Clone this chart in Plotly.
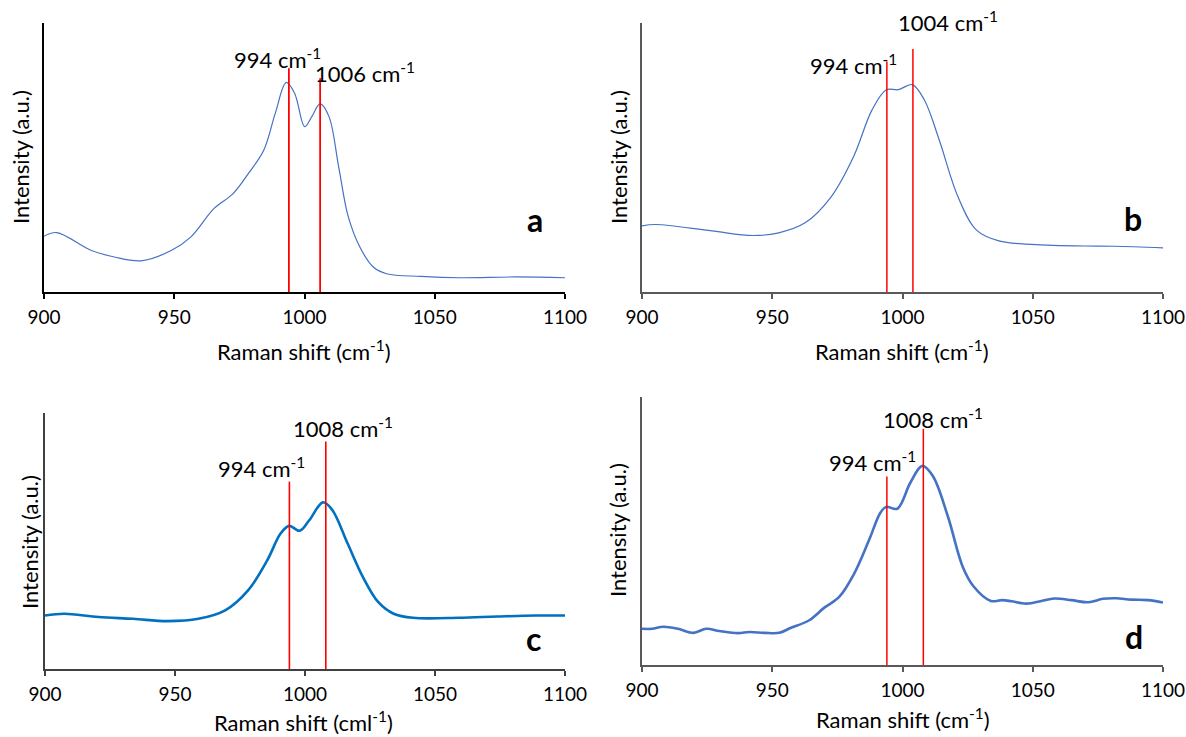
import plotly.graph_objects as go

W, H = 1186, 737

# ---------------- data ----------------
a_x = [900, 904.9, 918, 927, 937.3, 949, 956.4, 965.2, 972.6, 978.5, 984.4, 988.8, 993, 996.2,
       1000.1, 1002.8, 1006, 1009.4, 1013.1, 1016.8, 1021.2, 1026.4, 1031.5, 1044.8, 1059.5, 1081.6, 1100]
a_y = [20.7, 22.1, 15.5, 13.0, 11.6, 15.5, 20.5, 31.0, 36.6, 44.1, 52.8, 66.5, 77.9, 73.9,
       61.5, 65.2, 69.9, 65.2, 46.6, 28.0, 16.8, 9.3, 6.8, 5.8, 5.3, 5.6, 5.3]

b_x = [900, 905.3, 926.8, 942.5, 952.5, 962.6, 972.6, 981.2, 988.3, 993.8, 998.4, 1003.7, 1008.4,
       1014.1, 1021.3, 1028.4, 1037, 1055.6, 1070, 1081.4, 1100]
b_y = [24.6, 25.1, 22.7, 21.0, 22.0, 25.7, 35.4, 50.3, 67.7, 75.2, 75.2, 77.1, 71.4,
       56.5, 35.4, 23.0, 19.0, 17.4, 17.1, 17.0, 16.4]

c_x = [900, 907.4, 920.6, 933.9, 947.2, 959, 969.3, 978.1, 985.5, 990.6, 993.9, 998, 1001.7, 1006.9,
       1010.5, 1016.4, 1022.3, 1028.2, 1034.1, 1041.5, 1059.2, 1073.9, 1088.7, 1100]
c_y = [20.9, 21.6, 20.3, 19.6, 18.7, 19.6, 22.9, 30.7, 42.5, 52.9, 55.9, 54.0, 58.2, 65.1,
       62.1, 49.0, 35.9, 26.1, 21.6, 20.0, 20.0, 20.5, 20.9, 20.9]

d_x = [900, 903.9, 908.2, 913.9, 919.7, 924.7, 929.7, 936.9, 941.2, 947, 952.7, 957, 964.2, 970,
       975.7, 981.5, 987.2, 991.5, 993.7, 998, 1003, 1007.6, 1011.6, 1017.4, 1023.1, 1027.4,
       1033.9, 1038.2, 1041.8, 1047.6, 1053.3, 1058.3, 1064.8, 1071.3, 1077, 1082, 1087.8, 1094.3, 1100]
d_y = [13.5, 13.5, 14.3, 13.5, 12.0, 13.5, 12.7, 11.9, 12.3, 12.0, 12.0, 13.8, 16.7, 21.4,
       25.4, 34.2, 46.7, 56.8, 59.0, 58.3, 68.0, 74.3, 70.6, 55.5, 36.7, 29.2,
       23.9, 24.2, 23.8, 22.9, 23.9, 24.8, 24.2, 23.4, 24.7, 24.9, 24.4, 24.2, 23.3]

peaks_a = [994, 1006]
peak_tops_a = [83.2, 79.5]
peaks_b = [994, 1004]
peak_tops_b = [85.7, 90.3]
peaks_c = [994, 1008]
peak_tops_c = [73.2, 88.9]
peaks_d = [994, 1008]
peak_tops_d = [70.3, 88.1]

x_ticks = [900, 950, 1000, 1050, 1100]
x_tick_labels = ["900", "950", "1000", "1050", "1100"]
x_titles = ["Raman shift (cm<sup>-1</sup>)", "Raman shift (cm<sup>-1</sup>)",
            "Raman shift (cml<sup>-1</sup>)", "Raman shift (cm<sup>-1</sup>)"]
y_title = "Intensity (a.u.)"
panel_letters = ["a", "b", "c", "d"]

FONT = "Lato, Carlito, Calibri, sans-serif"


def px(x):
    return x / W


def py(y):
    return 1 - y / H


panels = [
    dict(x=a_x, y=a_y, peaks=peaks_a, tops=peak_tops_a, color="#4472C4", width=1.2,
         axcol="#000000", rw=1.8, xd=[44, 565], yd=[292, 23]),
    dict(x=b_x, y=b_y, peaks=peaks_b, tops=peak_tops_b, color="#4472C4", width=1.2,
         axcol="#595959", rw=1.5, xd=[642, 1163], yd=[292, 23]),
    dict(x=c_x, y=c_y, peaks=peaks_c, tops=peak_tops_c, color="#0070C0", width=2.6,
         axcol="#404040", rw=1.6, xd=[45, 565], yd=[669, 413]),
    dict(x=d_x, y=d_y, peaks=peaks_d, tops=peak_tops_d, color="#4472C4", width=2.6,
         axcol="#595959", rw=1.5, xd=[642, 1163], yd=[665, 397]),
]

fig = go.Figure()
layout = dict(
    width=W, height=H, margin=dict(l=0, r=0, t=0, b=0, pad=0, autoexpand=False),
    paper_bgcolor="white", plot_bgcolor="white", showlegend=False,
    font=dict(family=FONT, color="#000000"),
)

for i, p in enumerate(panels):
    n = "" if i == 0 else str(i + 1)
    xa, ya = "x" + n, "y" + n
    rx, ry = [], []
    for pk, tp in zip(p["peaks"], p["tops"]):
        rx += [pk, pk, None]
        ry += [0, tp, None]
    fig.add_trace(go.Scatter(x=p["x"], y=p["y"], mode="lines",
                             line=dict(color=p["color"], width=p["width"], shape="spline", smoothing=1.0),
                             xaxis=xa, yaxis=ya, hoverinfo="skip"))
    fig.add_trace(go.Scatter(x=rx, y=ry, mode="lines",
                             line=dict(color="#FF0000", width=p["rw"]),
                             xaxis=xa, yaxis=ya, hoverinfo="skip"))
    layout["xaxis" + n] = dict(
        domain=[px(p["xd"][0]), px(p["xd"][1])], anchor=ya, range=[900, 1100],
        tickvals=x_ticks, ticktext=x_tick_labels, ticks="outside", ticklen=5, tickwidth=1.5,
        tickcolor=p["axcol"], showline=True, linecolor=p["axcol"], linewidth=1.5,
        showgrid=False, zeroline=False, tickfont=dict(size=19, color="#000000", family=FONT),
        ticklabelstandoff=2, automargin=False,
    )
    layout["yaxis" + n] = dict(
        domain=[py(p["yd"][0]), py(p["yd"][1])], anchor=xa, range=[0, 100],
        showticklabels=False, ticks="", showline=True, linecolor=p["axcol"], linewidth=1.5,
        showgrid=False, zeroline=False, automargin=False,
    )

fig.update_layout(**layout)

ann = []
xt_pos = [(304, 350), (902, 350), (303, 721), (903, 718)]
for t, (x, y) in zip(x_titles, xt_pos):
    ann.append(dict(text=t, x=px(x), y=py(y), xref="paper", yref="paper", showarrow=False,
                    xanchor="center", yanchor="middle", font=dict(size=22, family=FONT)))
yt_pos = [(20, 157), (618, 157), (29, 542), (617, 530)]
for (x, y) in yt_pos:
    ann.append(dict(text=y_title, x=px(x), y=py(y), xref="paper", yref="paper", showarrow=False,
                    textangle=-90, xanchor="center", yanchor="middle", font=dict(size=22, family=FONT)))
lt_pos = [(535, 220), (1133, 219), (533, 638), (1134, 636)]
for t, (x, y) in zip(panel_letters, lt_pos):
    ann.append(dict(text="<b>%s</b>" % t, x=px(x), y=py(y), xref="paper", yref="paper", showarrow=False,
                    xanchor="center", yanchor="middle", font=dict(size=32, family=FONT)))
peak_labels = [
    ("994 cm<sup>-1</sup>", 277, 59), ("1006 cm<sup>-1</sup>", 365, 72),
    ("994 cm<sup>-1</sup>", 853, 64), ("1004 cm<sup>-1</sup>", 948, 22),
    ("994 cm<sup>-1</sup>", 261, 467), ("1008 cm<sup>-1</sup>", 343, 427),
    ("994 cm<sup>-1</sup>", 872, 461), ("1008 cm<sup>-1</sup>", 933, 418),
]
for t, x, y in peak_labels:
    ann.append(dict(text=t, x=px(x), y=py(y), xref="paper", yref="paper", showarrow=False,
                    xanchor="center", yanchor="middle", font=dict(size=22, family=FONT)))

fig.update_layout(annotations=ann)
fig.write_html("out.html", config={"displayModeBar": False},
               post_script="document.body.style.margin='0';document.body.style.overflow='hidden';")
